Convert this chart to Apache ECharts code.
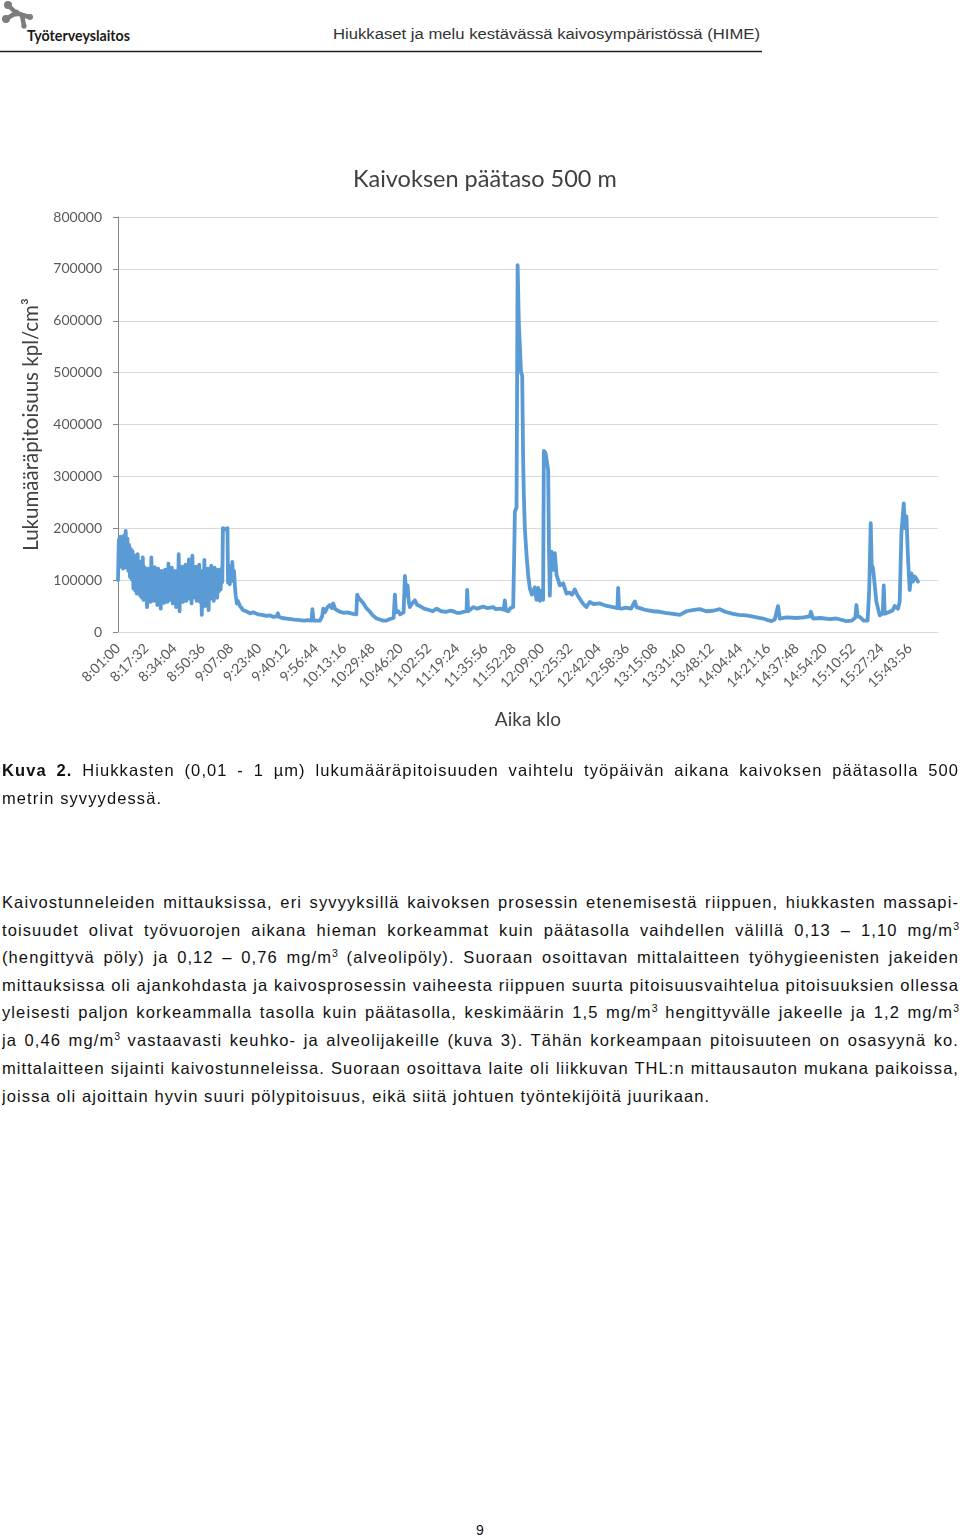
<!DOCTYPE html>
<html><head><meta charset="utf-8">
<script src="https://cdn.jsdelivr.net/npm/echarts@6/dist/echarts.min.js"></script>
<style>
html,body{margin:0;padding:0;background:#fff;}
body{width:960px;height:1539px;position:relative;overflow:hidden;font-family:"Liberation Sans",Arial,sans-serif;color:#111;}
.abs{position:absolute;}
.ln{position:absolute;left:2px;width:957px;height:28px;line-height:28px;font-size:16.5px;letter-spacing:1.1px;text-align:justify;text-align-last:justify;overflow:hidden;}
.last{text-align:left;text-align-last:left;}
sup{font-size:10.5px;line-height:0;vertical-align:6px;letter-spacing:0;}
</style></head>
<body>
<svg class="abs" style="left:0;top:0" width="960" height="60">
  <g stroke="#7d7d7d" stroke-width="4.5" stroke-linecap="round" fill="#7d7d7d">
    <line x1="8" y1="5" x2="16" y2="13"/>
    <line x1="16" y1="13" x2="6" y2="19"/>
    <line x1="16" y1="13" x2="29" y2="17"/>
    <line x1="22" y1="15" x2="24" y2="26"/>
    <circle cx="8" cy="5" r="4" stroke="none"/>
    <circle cx="6" cy="19" r="4" stroke="none"/>
    <circle cx="16" cy="13" r="3.5" stroke="none"/>
    <circle cx="30" cy="17" r="3" stroke="none"/>
    <circle cx="24" cy="26" r="2.6" stroke="none"/>
  </g>
  <text x="27" y="41" font-family="Lato, 'Open Sans', sans-serif" font-weight="700" font-size="16" fill="#1a1a1a" textLength="103" lengthAdjust="spacingAndGlyphs">Työterveyslaitos</text>
  <text x="333" y="39" font-family="'Liberation Sans', Arial, sans-serif" font-size="15.5" fill="#333" textLength="427" lengthAdjust="spacingAndGlyphs">Hiukkaset ja melu kestävässä kaivosympäristössä (HIME)</text>
  <line x1="0" y1="51.5" x2="762" y2="51.5" stroke="#222" stroke-width="1.3"/>
</svg>

<div id="chart" class="abs" style="left:0;top:150px;width:960px;height:620px;"></div>

<div class="ln" style="top:756px"><b>Kuva 2.</b> Hiukkasten (0,01 - 1 µm) lukumääräpitoisuuden vaihtelu työpäivän aikana kaivoksen päätasolla 500</div>
<div class="ln last" style="top:784px">metrin syvyydessä.</div>

<div class="ln" style="top:888px">Kaivostunneleiden mittauksissa, eri syvyyksillä kaivoksen prosessin etenemisestä riippuen, hiukkasten massapi-</div>
<div class="ln" style="top:915.5px">toisuudet olivat työvuorojen aikana hieman korkeammat kuin päätasolla vaihdellen välillä 0,13 – 1,10 mg/m<sup>3</sup></div>
<div class="ln" style="top:943px">(hengittyvä pöly) ja 0,12 – 0,76 mg/m<sup>3</sup> (alveolipöly). Suoraan osoittavan mittalaitteen työhygieenisten jakeiden</div>
<div class="ln" style="top:970.5px">mittauksissa oli ajankohdasta ja kaivosprosessin vaiheesta riippuen suurta pitoisuusvaihtelua pitoisuuksien ollessa</div>
<div class="ln" style="top:998px">yleisesti paljon korkeammalla tasolla kuin päätasolla, keskimäärin 1,5 mg/m<sup>3</sup> hengittyvälle jakeelle ja 1,2 mg/m<sup>3</sup></div>
<div class="ln" style="top:1026px">ja 0,46 mg/m<sup>3</sup> vastaavasti keuhko- ja alveolijakeille (kuva 3). Tähän korkeampaan pitoisuuteen on osasyynä ko.</div>
<div class="ln" style="top:1054px">mittalaitteen sijainti kaivostunneleissa. Suoraan osoittava laite oli liikkuvan THL:n mittausauton mukana paikoissa,</div>
<div class="ln last" style="top:1082px">joissa oli ajoittain hyvin suuri pölypitoisuus, eikä siitä johtuen työntekijöitä juurikaan.</div>

<div class="abs" style="left:0;width:960px;top:1520px;text-align:center;font-size:14px;line-height:20px;">9</div>

<script>
// fit each justified line on one row by easing its letter spacing
document.querySelectorAll('.ln').forEach(el => {
  let ls = 1.1;
  while (el.scrollHeight > 30 && ls > 0) { ls -= 0.05; el.style.letterSpacing = ls + 'px'; }
});

const chartTitle = 'Kaivoksen päätaso 500 m';
const yAxisTitle = 'Lukumääräpitoisuus kpl/cm³';
const xAxisTitle = 'Aika klo';
const xTickLabels = ['8:01:00','8:17:32','8:34:04','8:50:36','9:07:08','9:23:40','9:40:12','9:56:44','10:13:16','10:29:48','10:46:20','11:02:52','11:19:24','11:35:56','11:52:28','12:09:00','12:25:32','12:42:04','12:58:36','13:15:08','13:31:40','13:48:12','14:04:44','14:21:16','14:37:48','14:54:20','15:10:52','15:27:24','15:43:56'];
const xStart = '8:01:00';
const xStepSeconds = 992;

// Morning band (dense fluctuation)
const bandTimes = [
'8:01:00','8:01:30','8:02:00','8:02:30','8:03:00','8:03:30','8:04:00','8:04:30','8:05:00','8:05:30',
'8:06:00','8:06:30','8:07:00','8:07:30','8:08:00','8:08:30','8:09:00','8:09:30','8:10:00','8:10:30',
'8:11:00','8:11:30','8:12:00','8:12:30','8:13:00','8:13:30','8:14:00','8:14:30','8:15:00','8:15:30',
'8:16:00','8:16:30','8:17:00','8:17:30','8:18:00','8:18:30','8:19:00','8:19:30','8:20:00','8:20:30',
'8:21:00','8:21:30','8:22:00','8:22:30','8:23:00','8:23:30','8:24:00','8:24:30','8:25:00','8:25:30',
'8:26:00','8:26:30','8:27:00','8:27:30','8:28:00','8:28:30','8:29:00','8:29:30','8:30:00','8:30:30',
'8:31:00','8:31:30','8:32:00','8:32:30','8:33:00','8:33:30','8:34:00','8:34:30','8:35:00','8:35:30',
'8:36:00','8:36:30','8:37:00','8:37:30','8:38:00','8:38:30','8:39:00','8:39:30','8:40:00','8:40:30',
'8:41:00','8:41:30','8:42:00','8:42:30','8:43:00','8:43:30','8:44:00','8:44:30','8:45:00','8:45:30',
'8:46:00','8:46:30','8:47:00','8:47:30','8:48:00','8:48:30','8:49:00','8:49:30','8:50:00','8:50:30',
'8:51:00','8:51:30','8:52:00','8:52:30','8:53:00','8:53:30','8:54:00','8:54:30','8:55:00','8:55:30',
'8:56:00','8:56:30','8:57:00','8:57:30','8:58:00','8:58:30','8:59:00','8:59:30','9:00:00','9:00:30',
'9:01:00','9:01:30','9:02:00','9:02:20','9:03:40','9:05:00','9:05:20','9:05:50','9:06:20','9:06:50',
'9:07:20','9:07:50','9:08:20','9:08:50','9:09:20','9:09:50','9:10:30'
];
const bandCounts = [
100000,178000,125000,184000,130000,170000,122000,186000,134000,195000,
124000,180000,118000,168000,106000,160000,102000,156000,84000,148000,
80000,138000,74000,150000,78000,132000,70000,136000,66000,144000,
62000,125000,70000,118000,48000,122000,66000,112000,58000,144000,
68000,116000,60000,125000,72000,110000,52000,122000,64000,114000,
45000,118000,68000,108000,56000,120000,70000,112000,58000,132000,
72000,116000,62000,124000,55000,110000,66000,118000,48000,114000,
62000,150000,40000,120000,64000,126000,58000,112000,68000,130000,
60000,118000,70000,140000,64000,120000,55000,147000,66000,116000,
72000,126000,60000,112000,68000,130000,58000,118000,33000,110000,
62000,139000,50000,116000,70000,122000,42000,112000,64000,128000,
70000,118000,60000,124000,72000,114000,66000,120000,78000,116000,
82000,122000,96000,200000,198000,200000,95000,128000,92000,122000,
98000,135000,100000,118000,90000,70000,55000
];

// Rest of the working day
const dayTimes = [
'9:11:00','9:12:20','9:13:30','9:14:15','9:16:00','9:18:10','9:20:00','9:22:50','9:25:00','9:28:05',
'9:30:00','9:32:00','9:33:46','9:34:30','9:35:10','9:37:00','9:39:36','9:42:00','9:44:00','9:47:24',
'9:50:00','9:52:00','9:54:13','9:54:40','9:55:20','9:57:00','9:59:04','10:00:20','10:01:00','10:02:00',
'10:03:30','10:04:55','10:06:00','10:06:50','10:08:00','10:10:46','10:13:00','10:15:00','10:18:31','10:20:20',
'10:20:52','10:21:40','10:22:30','10:24:22','10:26:00','10:28:17','10:30:00','10:32:12','10:34:00','10:36:05',
'10:38:00','10:40:00','10:42:10','10:42:54','10:43:30','10:44:50','10:46:00','10:48:00','10:48:45','10:49:40',
'10:50:20','10:51:00','10:51:40','10:53:00','10:54:35','10:56:00','10:57:31','11:00:00','11:03:22','11:05:00',
'11:07:17','11:10:00','11:13:08','11:15:00','11:17:00','11:19:00','11:20:54','11:23:00','11:24:48','11:25:10',
'11:25:44','11:27:00','11:28:40','11:31:00','11:34:30','11:37:00','11:40:22','11:42:00','11:44:17','11:46:30',
'11:47:12','11:47:50','11:49:08','11:50:30','11:52:03','11:52:40','11:53:03','11:54:02','11:54:40','11:55:20',
'11:56:00','11:56:40','11:57:20','11:57:54','11:58:18','11:58:53','11:59:53','12:00:50','12:01:49','12:03:00',
'12:03:45','12:04:40','12:05:42','12:06:40','12:07:38','12:08:40','12:09:35','12:10:00','12:11:00','12:11:34',
'12:12:31','12:13:00','12:13:30','12:14:00','12:14:30','12:15:30','12:16:26','12:17:25','12:19:21','12:21:17',
'12:23:14','12:25:00','12:26:30','12:28:06','12:29:30','12:31:01','12:33:00','12:34:56','12:36:52','12:39:00',
'12:42:43','12:46:00','12:50:30','12:53:00','12:53:26','12:54:00','12:55:25','12:58:00','13:01:00','13:03:11',
'13:04:10','13:07:00','13:10:01','13:14:00','13:17:48','13:21:00','13:25:34','13:29:29','13:33:24','13:37:00',
'13:41:10','13:45:00','13:48:57','13:52:52','13:56:00','14:00:38','14:04:00','14:08:28','14:13:00','14:18:10',
'14:21:00','14:23:04','14:25:00','14:26:56','14:27:55','14:32:00','14:37:40','14:42:00','14:45:28','14:46:10',
'14:47:24','14:52:00','14:57:10','15:01:00','15:06:55','15:10:00','15:12:10','15:12:45','15:13:30','15:14:41',
'15:17:00','15:19:20','15:20:14','15:21:08','15:21:40','15:22:28','15:24:27','15:26:23','15:28:10','15:28:44',
'15:29:19','15:32:14','15:34:00','15:35:09','15:37:05','15:38:04','15:39:04','15:40:00','15:40:25','15:41:10',
'15:42:00','15:42:56','15:43:55','15:44:54','15:45:50','15:46:50','15:47:48','15:48:46'
];
const dayCounts = [
60000,50000,47000,42000,40000,36000,38000,34000,33000,31000,
32000,29000,30000,36000,29000,27000,26000,25000,24000,23000,
22000,23000,22000,44000,22000,22000,22000,30000,45000,38000,
48000,52000,46000,55000,44000,39000,37000,38000,35000,34000,
72000,66000,64000,56000,47000,39000,32000,26000,24000,22000,
22000,25000,27000,72000,38000,40000,34000,38000,108000,70000,
90000,58000,48000,55000,61000,52000,50000,45000,42000,40000,
45000,40000,39000,41000,40000,37000,37000,39000,40000,81000,
40000,43000,48000,45000,49000,46000,48000,44000,45000,43000,
61000,42000,40000,46000,48000,150000,232000,240000,707000,600000,
598000,500000,495000,330000,264000,200000,148000,110000,84000,72000,
71000,86000,62000,85000,60000,80000,62000,349000,345000,345000,
312000,160000,70000,130000,155000,120000,152000,110000,90000,94000,
74000,76000,72000,82000,72000,64000,54000,48000,58000,54000,
55000,51000,48000,46000,85000,46000,45000,47000,45000,59000,
48000,45000,42000,40000,39000,37000,35000,33000,40000,42000,
44000,40000,41000,44000,39000,35000,33000,32000,29000,26000,
23000,21000,24000,50000,26000,28000,27000,28000,30000,39000,
26000,27000,25000,26000,21000,22000,28000,52000,30000,29000,
22000,22000,80000,210000,130000,123000,58000,32000,36000,90000,
35000,39000,42000,50000,45000,58000,190000,230000,248000,200000,
223000,142000,81000,113000,97000,107000,103000,97000
];

function clockToSec(s) { const p = s.split(':').map(Number); return p[0]*3600 + p[1]*60 + p[2]; }
const t0 = clockToSec(xStart);
const sampleTimes = bandTimes.concat(dayTimes);
const particleCounts = bandCounts.concat(dayCounts);
const seriesData = sampleTimes.map((t, i) => [clockToSec(t) - t0, particleCounts[i]]);

const chart = echarts.init(document.getElementById('chart'), null, {renderer: 'canvas'});
const labelFont = 'Lato, "Open Sans", sans-serif';
chart.setOption({
  animation: false,
  backgroundColor: '#fff',
  graphic: [{
    type: 'text', left: 353, top: 17,
    style: {text: chartTitle, fontFamily: labelFont, fontSize: 23.5, fill: '#404040'}
  }],
  grid: {left: 118, right: 22, top: 67, bottom: 138, containLabel: false},
  xAxis: {
    type: 'value', min: 0, max: xTickLabels.length * xStepSeconds, interval: xStepSeconds,
    name: xAxisTitle, nameLocation: 'middle', nameGap: 78,
    nameTextStyle: {fontFamily: labelFont, fontSize: 19, color: '#404040'},
    axisLine: {show: true, lineStyle: {color: '#d9d9d9', width: 1}},
    axisTick: {show: false},
    splitLine: {show: false},
    axisLabel: {
      rotate: 45, margin: 14, fontFamily: labelFont, fontSize: 14, color: '#595959',
      showMaxLabel: false,
      formatter: v => xTickLabels[Math.round(v / xStepSeconds)] || ''
    }
  },
  yAxis: {
    type: 'value', min: 0, max: 800000, interval: 100000,
    name: yAxisTitle, nameLocation: 'middle', nameGap: 72, nameRotate: 90,
    nameTextStyle: {fontFamily: labelFont, fontSize: 20.5, color: '#404040'},
    axisLine: {show: true, lineStyle: {color: '#868686', width: 1}},
    axisTick: {show: true, length: 5, lineStyle: {color: '#868686'}},
    splitLine: {show: true, lineStyle: {color: '#d9d9d9', width: 1}},
    axisLabel: {margin: 16, fontFamily: labelFont, fontSize: 14, color: '#595959', formatter: v => String(v)}
  },
  series: [{
    type: 'line', data: seriesData, showSymbol: false, sampling: null,
    lineStyle: {color: '#5B9BD5', width: 3.8, join: 'round', cap: 'round'},
    itemStyle: {color: '#5B9BD5'}
  }]
});
</script>
</body></html>
